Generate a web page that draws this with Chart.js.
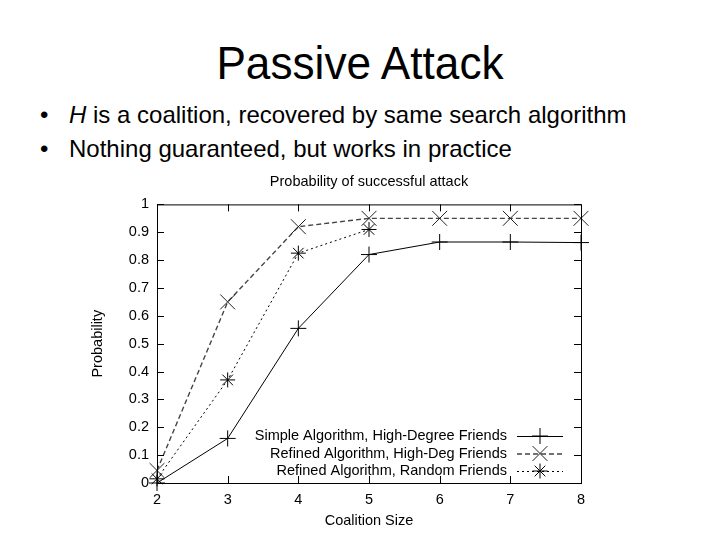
<!DOCTYPE html>
<html>
<head>
<meta charset="utf-8">
<script src="https://cdn.jsdelivr.net/npm/chart.js@4/dist/chart.umd.min.js"></script>
<style>
  body { margin: 0; background: #fff; font-family: "Liberation Sans", Arial, sans-serif; }
  #slide { position: relative; width: 720px; height: 540px; overflow: hidden; }
  #title { position: absolute; left: 0; top: 40px; width: 720px; text-align: center;
           font-size: 46px; line-height: 46px; color: #000; transform: scaleX(0.96); }
  .bullet { position: absolute; left: 40px; font-size: 24px; line-height: 26px; color: #000; }
  .bullet span.dot { display: inline-block; width: 29px; }
  #b1 { top: 102px; }
  #b2 { top: 136px; }
  canvas { position: absolute; left: 0; top: 0; }
</style>
</head>
<body>
<div id="slide">
  <div id="title">Passive Attack</div>
  <div class="bullet" id="b1"><span class="dot">•</span><i>H</i> is a coalition, recovered by same search algorithm</div>
  <div class="bullet" id="b2"><span class="dot">•</span>Nothing guaranteed, but works in practice</div>
  <canvas id="chart" width="720" height="540"></canvas>
</div>
<script>
const coalitionSize = [2, 3, 4, 5, 6, 7, 8];
const simpleHighDeg = [0.0, 0.16, 0.555, 0.82, 0.865, 0.865, 0.863];
const refinedHighDeg = [0.045, 0.65, 0.92, 0.95, 0.95, 0.95, 0.95];
const refinedRandom = [0.015, 0.37, 0.825, 0.91];
const xTicks = [2, 3, 4, 5, 6, 7, 8];
const yTicks = [0, 0.1, 0.2, 0.3, 0.4, 0.5, 0.6, 0.7, 0.8, 0.9, 1];
const seriesLabels = [
  "Simple Algorithm, High-Degree Friends",
  "Refined Algorithm, High-Deg Friends",
  "Refined Algorithm, Random Friends"
];

const toPoints = (vals) => vals.map((v, i) => ({ x: coalitionSize[i], y: v }));
const font = "'Liberation Sans', Arial, sans-serif";
const fs = 14.5;

// gnuplot style box with inward ticks on all four sides
const boxPlugin = {
  id: "box",
  afterDraw(chart) {
    const { ctx, chartArea: a, scales } = chart;
    ctx.save();
    ctx.strokeStyle = "#000";
    ctx.lineWidth = 1;
    ctx.strokeRect(a.left + 0.5, a.top + 0.5, a.right - a.left, a.bottom - a.top);
    const len = 7;
    ctx.beginPath();
    xTicks.forEach((v) => {
      const px = Math.round(scales.x.getPixelForValue(v)) + 0.5;
      ctx.moveTo(px, a.bottom); ctx.lineTo(px, a.bottom - len);
      ctx.moveTo(px, a.top); ctx.lineTo(px, a.top + len);
    });
    yTicks.forEach((v) => {
      const py = Math.round(scales.y.getPixelForValue(v)) + 0.5;
      ctx.moveTo(a.left, py); ctx.lineTo(a.left + len, py);
      ctx.moveTo(a.right, py); ctx.lineTo(a.right - len, py);
    });
    ctx.stroke();
    ctx.restore();
  }
};

// legend inside the plot, text right-aligned with the sample after it
const keyPlugin = {
  id: "key",
  afterDraw(chart) {
    const { ctx, chartArea: a } = chart;
    ctx.save();
    ctx.font = fs + "px " + font;
    ctx.textAlign = "right";
    ctx.textBaseline = "middle";
    chart.data.datasets.forEach((ds, i) => {
      const y = a.bottom - 47 + i * 17.5;
      const textRight = a.right - 74;
      ctx.fillStyle = "#000";
      ctx.fillText(ds.label, textRight, y);
      const x0 = a.right - 64, x1 = a.right - 18;
      ctx.strokeStyle = ds.borderColor;
      ctx.lineWidth = ds.borderWidth;
      ctx.setLineDash(ds.borderDash || []);
      ctx.beginPath();
      ctx.moveTo(x0, y + 0.5); ctx.lineTo(x1, y + 0.5);
      ctx.stroke();
      ctx.setLineDash([]);
      ctx.lineWidth = 1;
      ctx.strokeStyle = ds.pointBorderColor;
      Chart.helpers.drawPoint(ctx, {
        pointStyle: ds.pointStyle, radius: ds.pointRadius, rotation: 0, borderWidth: 1
      }, (x0 + x1) / 2, y);
    });
    ctx.restore();
  }
};

new Chart(document.getElementById("chart"), {
  type: "line",
  data: {
    datasets: [
      {
        label: seriesLabels[0],
        data: toPoints(simpleHighDeg),
        borderColor: "#000",
        borderWidth: 1,
        pointStyle: "cross",
        pointRadius: 8,
        pointBorderColor: "#000",
        pointBorderWidth: 1,
        tension: 0
      },
      {
        label: seriesLabels[1],
        data: toPoints(refinedHighDeg),
        borderColor: "#444",
        borderWidth: 1.4,
        borderDash: [5, 3],
        pointStyle: "crossRot",
        pointRadius: 10.5,
        pointBorderColor: "#222",
        pointBorderWidth: 1,
        tension: 0
      },
      {
        label: seriesLabels[2],
        data: toPoints(refinedRandom),
        borderColor: "#000",
        borderWidth: 1,
        borderDash: [2, 3],
        pointStyle: "star",
        pointRadius: 7.5,
        pointBorderColor: "#000",
        pointBorderWidth: 1,
        tension: 0
      }
    ]
  },
  options: {
    responsive: false,
    animation: false,
    clip: false,
    layout: { padding: { left: 85, right: 139, top: 168, bottom: 6 } },
    plugins: {
      legend: { display: false },
      tooltip: { enabled: false },
      title: {
        display: true,
        fullSize: false,
        text: "Probability of successful attack",
        color: "#000",
        font: { family: font, size: fs, weight: "normal" },
        padding: { top: 5, bottom: 14 }
      }
    },
    scales: {
      x: {
        type: "linear",
        min: 2,
        max: 8,
        afterFit: (s) => { s.height = 51; },
        afterBuildTicks: (s) => { s.ticks = xTicks.map((v) => ({ value: v })); },
        grid: { display: false, drawTicks: false },
        border: { display: false },
        ticks: { color: "#000", padding: 8, font: { family: font, size: fs }, callback: (v) => String(v) },
        title: { display: true, text: "Coalition Size", color: "#000", font: { family: font, size: fs } }
      },
      y: {
        min: 0,
        max: 1,
        afterFit: (s) => { s.width = 72; },
        afterBuildTicks: (s) => { s.ticks = yTicks.map((v) => ({ value: v })); },
        grid: { display: false, drawTicks: false },
        border: { display: false },
        ticks: { color: "#000", padding: 8, font: { family: font, size: fs }, callback: (v) => String(v) },
        title: { display: true, text: "Probability", color: "#000", font: { family: font, size: fs } }
      }
    }
  },
  plugins: [boxPlugin, keyPlugin]
});
</script>
</body>
</html>
